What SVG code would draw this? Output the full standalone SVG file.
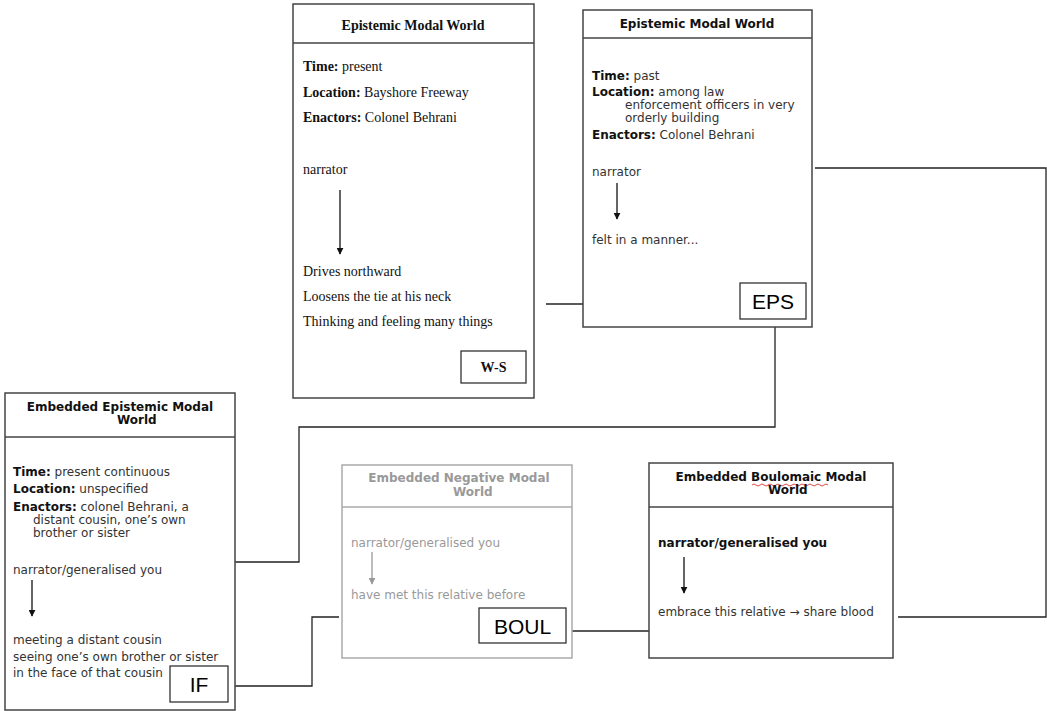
<svg xmlns="http://www.w3.org/2000/svg" width="1047" height="711" viewBox="0 0 1047 711">
<style>
.box{fill:#fff;stroke:#444;stroke-width:1.5}
.gbox{fill:#fff;stroke:#aaa;stroke-width:1.5}
.sep{stroke:#444;stroke-width:1.5}
.gsep{stroke:#aaa;stroke-width:1.5}
.tag{fill:#fff;stroke:#333;stroke-width:1.3}
.serif{font-family:"Liberation Serif","Times New Roman",serif;font-size:14px;fill:#111}
.sans{font-family:"DejaVu Sans",Verdana,sans-serif;font-size:12px;fill:#333}
.gray{fill:#999}
.b{font-weight:bold;fill:#111}
.lbl{font-family:"Liberation Sans",Arial,sans-serif;font-size:21px;fill:#000}
.conn{fill:none;stroke:#222;stroke-width:1.3}
.arr{stroke:#111;stroke-width:1.3;marker-end:url(#ah)}
.garr{stroke:#999;stroke-width:1.3;marker-end:url(#gah)}
</style>
<defs>
<marker id="ah" viewBox="0 0 10 10" refX="9" refY="5" markerWidth="7" markerHeight="7" markerUnits="userSpaceOnUse" orient="auto"><path d="M0,0 L10,5 L0,10 z" fill="#111"/></marker>
<marker id="gah" viewBox="0 0 10 10" refX="9" refY="5" markerWidth="7" markerHeight="7" markerUnits="userSpaceOnUse" orient="auto"><path d="M0,0 L10,5 L0,10 z" fill="#999"/></marker>
</defs>
<rect width="1047" height="711" fill="#fff"/>

<g id="connectors">
<path class="conn" d="M546,304 H583"/>
<path class="conn" d="M775,319 V427 H299 V562 H232"/>
<path class="conn" d="M230,686 H312 V617 H339"/>
<path class="conn" d="M565,631 H649"/>
<path class="conn" d="M815,168 H1046 V617 H898"/>
</g>

<g id="ws-world">
<rect class="box" x="293" y="4" width="241" height="394"/>
<line class="sep" x1="293" y1="43" x2="534" y2="43"/>
<text class="serif b" x="413" y="30" text-anchor="middle">Epistemic Modal World</text>
<text class="serif" x="303" y="71"><tspan class="b">Time:</tspan> present</text>
<text class="serif" x="303" y="97"><tspan class="b">Location:</tspan> Bayshore Freeway</text>
<text class="serif" x="303" y="122"><tspan class="b">Enactors:</tspan> Colonel Behrani</text>
<text class="serif" x="303" y="174">narrator</text>
<line class="arr" x1="340" y1="190" x2="340" y2="254"/>
<text class="serif" x="303" y="276">Drives northward</text>
<text class="serif" x="303" y="301">Loosens the tie at his neck</text>
<text class="serif" x="303" y="326">Thinking and feeling many things</text>
<rect class="tag" x="461" y="351" width="65" height="32"/>
<text class="serif b" x="493.5" y="372" text-anchor="middle">W-S</text>
</g>

<g id="eps-world">
<rect class="box" x="583" y="10" width="229" height="317"/>
<line class="sep" x1="583" y1="38" x2="812" y2="38"/>
<text class="sans b" x="697" y="28" text-anchor="middle">Epistemic Modal World</text>
<text class="sans" x="592" y="80"><tspan class="b">Time:</tspan> past</text>
<text class="sans" x="592" y="96"><tspan class="b">Location:</tspan> among law</text>
<text class="sans" x="625" y="109">enforcement officers in very</text>
<text class="sans" x="625" y="122">orderly building</text>
<text class="sans" x="592" y="139"><tspan class="b">Enactors:</tspan> Colonel Behrani</text>
<text class="sans" x="592" y="176">narrator</text>
<line class="arr" x1="617" y1="183" x2="617" y2="219"/>
<text class="sans" x="592" y="244">felt in a manner...</text>
<rect class="tag" x="740" y="283" width="66" height="36"/>
<text class="lbl" x="773" y="309" text-anchor="middle">EPS</text>
</g>

<g id="if-world">
<rect class="box" x="5" y="393" width="230" height="317"/>
<line class="sep" x1="5" y1="437" x2="235" y2="437"/>
<text class="sans b" x="120" y="411" text-anchor="middle">Embedded Epistemic Modal</text>
<text class="sans b" x="117" y="424">World</text>
<text class="sans" x="13" y="476"><tspan class="b">Time:</tspan> present continuous</text>
<text class="sans" x="13" y="493"><tspan class="b">Location:</tspan> unspecified</text>
<text class="sans" x="13" y="511"><tspan class="b">Enactors:</tspan> colonel Behrani, a</text>
<text class="sans" x="33" y="524">distant cousin, one’s own</text>
<text class="sans" x="33" y="537">brother or sister</text>
<text class="sans" x="13" y="574">narrator/generalised you</text>
<line class="arr" x1="32" y1="580" x2="32" y2="616"/>
<text class="sans" x="13" y="644">meeting a distant cousin</text>
<text class="sans" x="13" y="661">seeing one’s own brother or sister</text>
<text class="sans" x="13" y="677">in the face of that cousin</text>
<rect class="tag" x="170" y="666" width="58" height="36"/>
<text class="lbl" x="199" y="692" text-anchor="middle">IF</text>
</g>

<g id="negative-world">
<rect class="gbox" x="342" y="465" width="230" height="193"/>
<line class="gsep" x1="342" y1="507" x2="572" y2="507"/>
<text class="sans b gray" x="459" y="482" text-anchor="middle" style="fill:#999">Embedded Negative Modal</text>
<text class="sans b" x="453" y="496" style="fill:#999">World</text>
<text class="sans gray" x="351" y="547">narrator/generalised you</text>
<line class="garr" x1="372" y1="552" x2="372" y2="584"/>
<text class="sans gray" x="351" y="599">have met this relative before</text>
<rect class="tag" x="479" y="608" width="87" height="35"/>
<text class="lbl" x="522.5" y="634" text-anchor="middle">BOUL</text>
</g>

<g id="boulomaic-world">
<rect class="box" x="649" y="463" width="244" height="195"/>
<line class="sep" x1="649" y1="507" x2="893" y2="507"/>
<text class="sans b" x="771" y="481" text-anchor="middle">Embedded Boulomaic Modal</text>
<path d="M752,485 q2,-2 4,0 t4,0 t4,0 t4,0 t4,0 t4,0 t4,0 t4,0 t4,0 t4,0 t4,0 t4,0 t4,0 t4,0 t4,0 t4,0 t4,0 t4,0 t4,0" fill="none" stroke="#d33" stroke-width="0.9"/>
<text class="sans b" x="768" y="494">World</text>
<text class="sans b" x="658" y="547">narrator/generalised you</text>
<line class="arr" x1="684" y1="557" x2="684" y2="593"/>
<text class="sans" x="658" y="616">embrace this relative → share blood</text>
</g>
</svg>
